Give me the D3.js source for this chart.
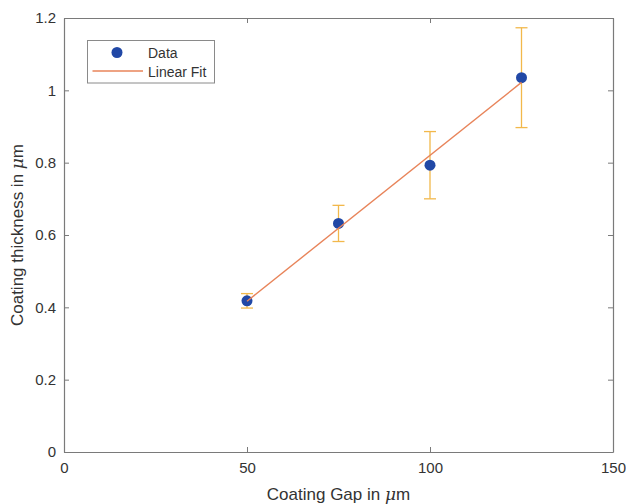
<!DOCTYPE html>
<html>
<head>
<meta charset="utf-8">
<script src="https://cdn.jsdelivr.net/npm/d3@7"></script>
<style>
  html, body { margin: 0; padding: 0; background: #fff; }
  svg { display: block; font-family: "Liberation Sans", Arial, sans-serif; }
</style>
</head>
<body>
<svg id="chart" width="626" height="504"></svg>
<script>
// Measured coating thickness vs. coating gap
const gaps = [50, 75, 100, 125];
const thickness = [0.418, 0.632, 0.793, 1.035];
const errors = [0.02, 0.05, 0.093, 0.138];

// Linear fit endpoints over the measured range
const fitGaps = [50, 125];
const fitThickness = [0.417, 1.022];

const xTicks = [0, 50, 100, 150];
const yTicks = [0, 0.2, 0.4, 0.6, 0.8, 1, 1.2];

const svg = d3.select("#chart");
const margin = { left: 64, right: 13, top: 18, bottom: 52 };
const W = 626, H = 504;

const x = d3.scaleLinear().domain([0, 150]).range([margin.left, W - margin.right]);
const y = d3.scaleLinear().domain([0, 1.2]).range([H - margin.bottom, margin.top]);

const axisColor = "#7a7a7a";
const textColor = "#333";
const tickLen = 5;

// Ticks pointing inward on all four sides
const axes = [
  { g: d3.axisBottom(x).tickValues(xTicks).tickSizeInner(-tickLen).tickSizeOuter(0).tickPadding(10), t: `translate(0,${y(0)})`, labels: true },
  { g: d3.axisTop(x).tickValues(xTicks).tickSizeInner(-tickLen).tickSizeOuter(0), t: `translate(0,${y(1.2)})`, labels: false },
  { g: d3.axisLeft(y).tickValues(yTicks).tickSizeInner(-tickLen).tickSizeOuter(0).tickPadding(8).tickFormat(d => d3.format("~g")(d)), t: `translate(${x(0)},0)`, labels: true },
  { g: d3.axisRight(y).tickValues(yTicks).tickSizeInner(-tickLen).tickSizeOuter(0), t: `translate(${x(150)},0)`, labels: false }
];
axes.forEach(a => {
  const g = svg.append("g").attr("transform", a.t).call(a.g);
  g.select(".domain").attr("stroke", axisColor).attr("stroke-width", 1.2);
  g.selectAll(".tick line").attr("stroke", axisColor).attr("stroke-width", 1);
  g.selectAll(".tick text")
    .attr("fill", textColor)
    .attr("font-size", 15)
    .style("display", a.labels ? null : "none");
});

// Axis titles
svg.append("text")
  .attr("x", x(75)).attr("y", 500)
  .attr("text-anchor", "middle").attr("font-size", 17).attr("fill", textColor)
  .html('Coating Gap in <tspan font-style="italic" font-family="DejaVu Serif, serif">μ</tspan>m');

svg.append("text")
  .attr("transform", `translate(23,${y(0.6)}) rotate(-90)`)
  .attr("text-anchor", "middle").attr("font-size", 17).attr("fill", textColor)
  .html('Coating thickness in <tspan font-style="italic" font-family="DejaVu Serif, serif">μ</tspan>m');

// Error bars
const errColor = "#F2B84B";
const capW = 6;
const eb = svg.append("g").attr("stroke", errColor).attr("stroke-width", 1.3);
gaps.forEach((g, i) => {
  const lo = y(thickness[i] - errors[i]), hi = y(thickness[i] + errors[i]);
  eb.append("line").attr("x1", x(g)).attr("x2", x(g)).attr("y1", lo).attr("y2", hi);
  eb.append("line").attr("x1", x(g) - capW).attr("x2", x(g) + capW).attr("y1", lo).attr("y2", lo);
  eb.append("line").attr("x1", x(g) - capW).attr("x2", x(g) + capW).attr("y1", hi).attr("y2", hi);
});

// Data markers
const dotColor = "#2148A6";
svg.append("g").selectAll("circle")
  .data(gaps.map((g, i) => [g, thickness[i]]))
  .join("circle")
  .attr("cx", d => x(d[0])).attr("cy", d => y(d[1]))
  .attr("r", 5.5).attr("fill", dotColor);

// Linear fit line
const fitColor = "#E8845A";
svg.append("path")
  .datum(fitGaps.map((g, i) => [g, fitThickness[i]]))
  .attr("d", d3.line().x(d => x(d[0])).y(d => y(d[1])))
  .attr("fill", "none").attr("stroke", fitColor).attr("stroke-width", 1.4);

// Legend
const lg = svg.append("g");
lg.append("rect").attr("x", 87.5).attr("y", 40.5).attr("width", 127).attr("height", 42.5)
  .attr("fill", "#fff").attr("stroke", "#8a8a8a").attr("stroke-width", 1);
lg.append("circle").attr("cx", 117).attr("cy", 52.5).attr("r", 5.5).attr("fill", dotColor);
lg.append("line").attr("x1", 92.5).attr("x2", 143).attr("y1", 71).attr("y2", 71)
  .attr("stroke", fitColor).attr("stroke-width", 1.4);
lg.append("text").attr("x", 148).attr("y", 58).attr("font-size", 14).attr("fill", textColor).text("Data");
lg.append("text").attr("x", 148).attr("y", 77).attr("font-size", 14).attr("fill", textColor).text("Linear Fit");
</script>
</body>
</html>
